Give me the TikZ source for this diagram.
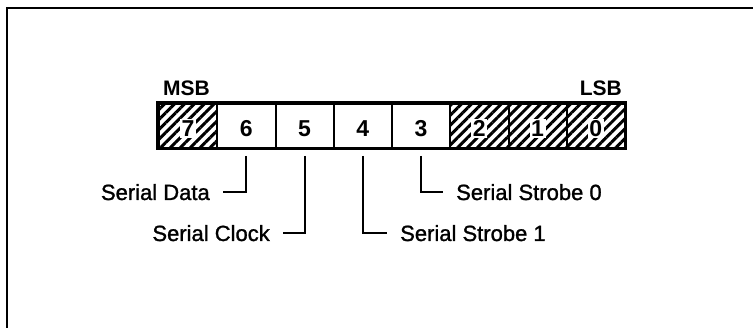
\documentclass[tikz,border=0pt]{standalone}
\usepackage{fontspec}
\setmainfont{Liberation Sans}
\newfontfamily\lblfont[FakeBold=1.2]{Liberation Sans}
\usetikzlibrary{patterns.meta}
\begin{document}
\begin{tikzpicture}[x=1pt,y=-1pt,
  cellbox/.style={draw=black, line width=2pt, minimum width=58.25pt, minimum height=44pt, inner sep=0pt},
  hatched/.style={pattern={Lines[angle=45,distance=7pt,line width=3pt]}},
  digit/.style={font=\fontsize{23}{23}\selectfont\bfseries, inner sep=1.5pt, text height=16pt, text depth=0pt},
  whitedigit/.style={digit, fill=white},
  lbl/.style={font=\fontsize{22}{22}\lblfont, inner xsep=13pt, inner ysep=0pt, text height=16pt, text depth=0pt},
  conn/.style={line width=2.2pt},
  tag/.style={font=\fontsize{21}{21}\selectfont\bfseries, inner sep=0pt},
  frameline/.style={line width=2pt}]
\useasboundingbox (0,0) rectangle (753,328);
% frame (top and left only)
\coordinate (ftr) at (753,8);
\coordinate (ftl) at (7,8);
\coordinate (fbl) at (7,328);
\draw[frameline] (ftr) -- (ftl) -- (fbl);
% cells
\foreach \i in {0,...,7}{
  \pgfmathtruncatemacro{\b}{7-\i}
  \pgfmathsetmacro{\cx}{159+(\i+0.5)*58.25}
  \coordinate (p\b) at (\cx,126);
}
\foreach \b in {7,2,1,0}{
  \node[cellbox, hatched] (c\b) at (p\b) {};
  \node[whitedigit] (d\b) at ([yshift=-3pt]p\b) {\b};
}
\foreach \b in {6,5,4,3}{
  \node[cellbox] (c\b) at (p\b) {};
  \node[digit] (d\b) at ([yshift=-3pt]p\b) {\b};
}
\draw[line width=2.6pt] (c7.north west) rectangle (c0.south east);
% MSB / LSB
\node[tag, anchor=base west] (msb) at (163,96) {MSB};
\node[tag, anchor=base east] (lsb) at (622,96) {LSB};
% labels
\node[lbl, anchor=east] (sd) at (223,192) {Serial Data};
\node[lbl, anchor=east] (sc) at (283,233) {Serial Clock};
\node[lbl, anchor=west] (ss1) at (387,233) {Serial Strobe 1};
\node[lbl, anchor=west] (ss0) at (443,192) {Serial Strobe 0};
\draw[conn] ([yshift=-7pt]c6.south) |- (sd.east);
\draw[conn] ([yshift=-7pt]c5.south) |- (sc.east);
\draw[conn] ([yshift=-7pt]c4.south) |- (ss1.west);
\draw[conn] ([yshift=-7pt]c3.south) |- (ss0.west);
\end{tikzpicture}
\end{document}
